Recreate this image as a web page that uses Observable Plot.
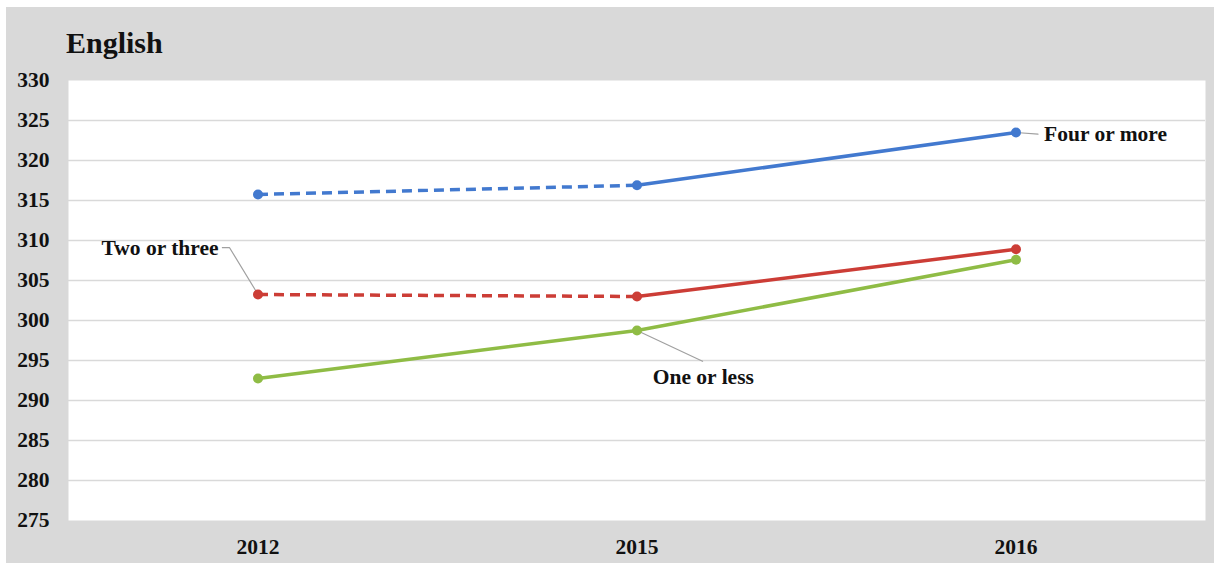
<!DOCTYPE html>
<html>
<head>
<meta charset="utf-8">
<script src="https://cdn.jsdelivr.net/npm/d3@7"></script>
<script src="https://cdn.jsdelivr.net/npm/@observablehq/plot@0.6"></script>
<style>
  html, body { margin: 0; padding: 0; background: #ffffff; }
  #panel { position: absolute; left: 6px; top: 7px; width: 1208px; height: 556px; background: #d9d9d9; }
  #title { position: absolute; left: 60px; top: 19px; font-family: "Liberation Serif", serif; font-weight: bold; font-size: 30px; color: #111; }
  #chart { position: absolute; left: 0; top: 53px; }
</style>
</head>
<body>
<div id="panel">
  <div id="title">English</div>
  <div id="chart"></div>
</div>
<script>
// ---- data ----
const years = ["2012", "2015", "2016"];
const seriesNames = ["Four or more", "Two or three", "One or less"];
const fourOrMore = [315.75, 316.9, 323.5];
const twoOrThree = [303.25, 303.0, 308.9];
const oneOrLess = [292.75, 298.75, 307.6];
const seriesColors = ["#4279cf", "#cc3d36", "#8fbc45"];
const firstSegmentDashed = [true, true, false];
const yTicks = [275, 280, 285, 290, 295, 300, 305, 310, 315, 320, 325, 330];

// label placement (in data units: year index, score)
const labelX = [2.074, -0.104, 1.175];
const labelY = [323.3, 309.1, 292.9];
const labelAnchor = ["start", "end", "middle"];
const leaderFour = [[2, 323.5], [2.058, 323.3]];
const leaderTwo = [[-0.094, 309.1], [-0.075, 309.1], [0, 303.25]];
const leaderOne = [[1, 298.75], [1.173, 294.9]];

// ---- build tables ----
const values = [fourOrMore, twoOrThree, oneOrLess];
const points = [];
const segments = [];
seriesNames.forEach((name, s) => {
  values[s].forEach((v, i) => points.push({series: name, xi: i, y: v}));
  for (let i = 0; i < years.length - 1; i++) {
    segments.push({
      series: name, x1: i, y1: values[s][i], x2: i + 1, y2: values[s][i + 1],
      dashed: i === 0 && firstSegmentDashed[s]
    });
  }
});
const labels = seriesNames.map((name, s) => ({series: name, x: labelX[s], y: labelY[s], anchor: labelAnchor[s]}));
const leaders = [];
[leaderFour, leaderTwo, leaderOne].forEach((pts, k) => pts.forEach(p => leaders.push({id: k, x: p[0], y: p[1]})));

const color = {domain: seriesNames, range: seriesColors};

const labelMarks = ["start", "end", "middle"].map(a =>
  Plot.text(labels.filter(d => d.anchor === a), {x: "x", y: "y", text: "series", textAnchor: a, fontSize: 21.5, fill: "#111"})
);

const chart = Plot.plot({
  width: 1208,
  height: 503,
  marginTop: 20,
  marginBottom: 43,
  marginLeft: 62,
  marginRight: 9,
  style: {fontFamily: "Liberation Serif, serif", fontWeight: "bold", background: "transparent", color: "#111"},
  x: {type: "linear", domain: [-0.5, 2.5]},
  y: {domain: [275, 330]},
  color,
  marks: [
    Plot.frame({fill: "#ffffff", stroke: null}),
    Plot.gridY(yTicks.slice(1, -1), {stroke: "#d9d9d9", strokeOpacity: 1, strokeWidth: 1.5}),
    Plot.axisY(yTicks, {tickSize: 0, tickPadding: 19, fontSize: 21.5, label: null, fill: "#111"}),
    Plot.axisX([0, 1, 2], {tickSize: 0, tickPadding: 18, fontSize: 21.5, label: null, fill: "#111", tickFormat: i => years[i]}),
    Plot.line(leaders, {x: "x", y: "y", z: "id", stroke: "#a0a0a0", strokeWidth: 1.2}),
    Plot.link(segments.filter(d => d.dashed), {x1: "x1", y1: "y1", x2: "x2", y2: "y2", stroke: "series", strokeWidth: 3.5, strokeDasharray: "10,6"}),
    Plot.link(segments.filter(d => !d.dashed), {x1: "x1", y1: "y1", x2: "x2", y2: "y2", stroke: "series", strokeWidth: 3.5, strokeLinecap: "round"}),
    Plot.dot(points, {x: "xi", y: "y", fill: "series", r: 5, stroke: null}),
    ...labelMarks
  ]
});
document.getElementById("chart").appendChild(chart);
</script>
</body>
</html>
